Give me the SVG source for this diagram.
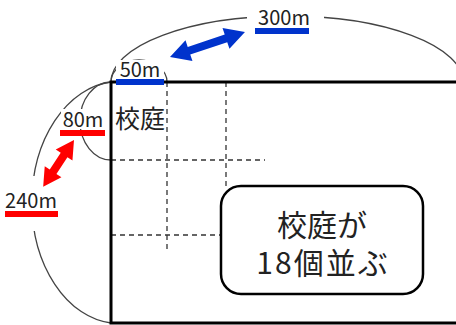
<svg xmlns="http://www.w3.org/2000/svg" width="456" height="325" viewBox="0 0 456 325">
<style>
.arc{fill:none;stroke:#444;stroke-width:1.3}
.dash{fill:none;stroke:#333;stroke-width:1.3;stroke-dasharray:5 4}
.lbl{font-family:"Noto Sans CJK JP","Noto Sans",sans-serif;fill:#222}
.m{font-size:20px;text-anchor:middle}
.wb{fill:#fff}
</style>
<rect width="456" height="325" fill="#fff"/>
<g id="tracks">
<path class="arc" d="M111,82 A176,66 0 0 1 463,82"/>
<path class="arc" d="M111,82 A28,22 0 0 1 167,82"/>
<path class="arc" d="M111,82 A87,121 0 0 0 111,323"/>
<path class="arc" d="M111,82 A31,39 0 0 0 111,160"/>
</g>
<g id="grid">
<line class="dash" x1="167" y1="82" x2="167" y2="253"/>
<line class="dash" x1="226" y1="82" x2="226" y2="186"/>
<line class="dash" x1="111" y1="160" x2="265" y2="160"/>
<line class="dash" x1="111" y1="235" x2="220" y2="235"/>
</g>
<g id="field">
<path d="M458,82 H111 V323 H458" fill="none" stroke="#000" stroke-width="3"/>
</g>
<g id="label-300m">
<rect class="wb" x="247" y="4" width="77" height="24"/>
<text class="lbl m" x="284" y="25">300m</text>
<rect x="255" y="28" width="54" height="6" fill="#0033cc"/>
</g>
<g id="label-50m">
<rect class="wb" x="116" y="60" width="48" height="18"/>
<text class="lbl m" x="140" y="77">50m</text>
<rect x="116" y="79" width="48" height="6" fill="#0033cc"/>
</g>
<g id="label-80m">
<rect class="wb" x="61" y="109" width="44" height="20"/>
<text class="lbl m" x="83" y="127">80m</text>
<rect x="60" y="130" width="45" height="6" fill="#ff0000"/>
</g>
<g id="label-240m">
<rect class="wb" x="2" y="176" width="60" height="55"/>
<text class="lbl m" x="31" y="208">240m</text>
<rect x="5" y="211" width="53" height="6" fill="#ff0000"/>
</g>
<g id="label-kotei">
<text class="lbl" x="115" y="128" font-size="25">校庭</text>
</g>
<g id="connectors">
<polygon fill="#0033cc" transform="translate(170,57) rotate(-18.4)" points="0,0 20,-11 20,-4 59,-4 59,-11 79,0 59,11 59,4 20,4 20,11"/>
<polygon fill="#ff0000" transform="translate(74,140) rotate(123.4)" points="0,0 18,-10 18,-4 38,-4 38,-10 56,0 38,10 38,4 18,4 18,10"/>
</g>
<g id="note">
<rect x="221" y="186" width="202" height="108" rx="20" ry="20" fill="#fff" stroke="#000" stroke-width="2.5"/>
<text class="lbl" x="322" y="236" font-size="30" text-anchor="middle">校庭が</text>
<text class="lbl" x="323" y="274" font-size="30" letter-spacing="2" text-anchor="middle">18個並ぶ</text>
</g>
</svg>
